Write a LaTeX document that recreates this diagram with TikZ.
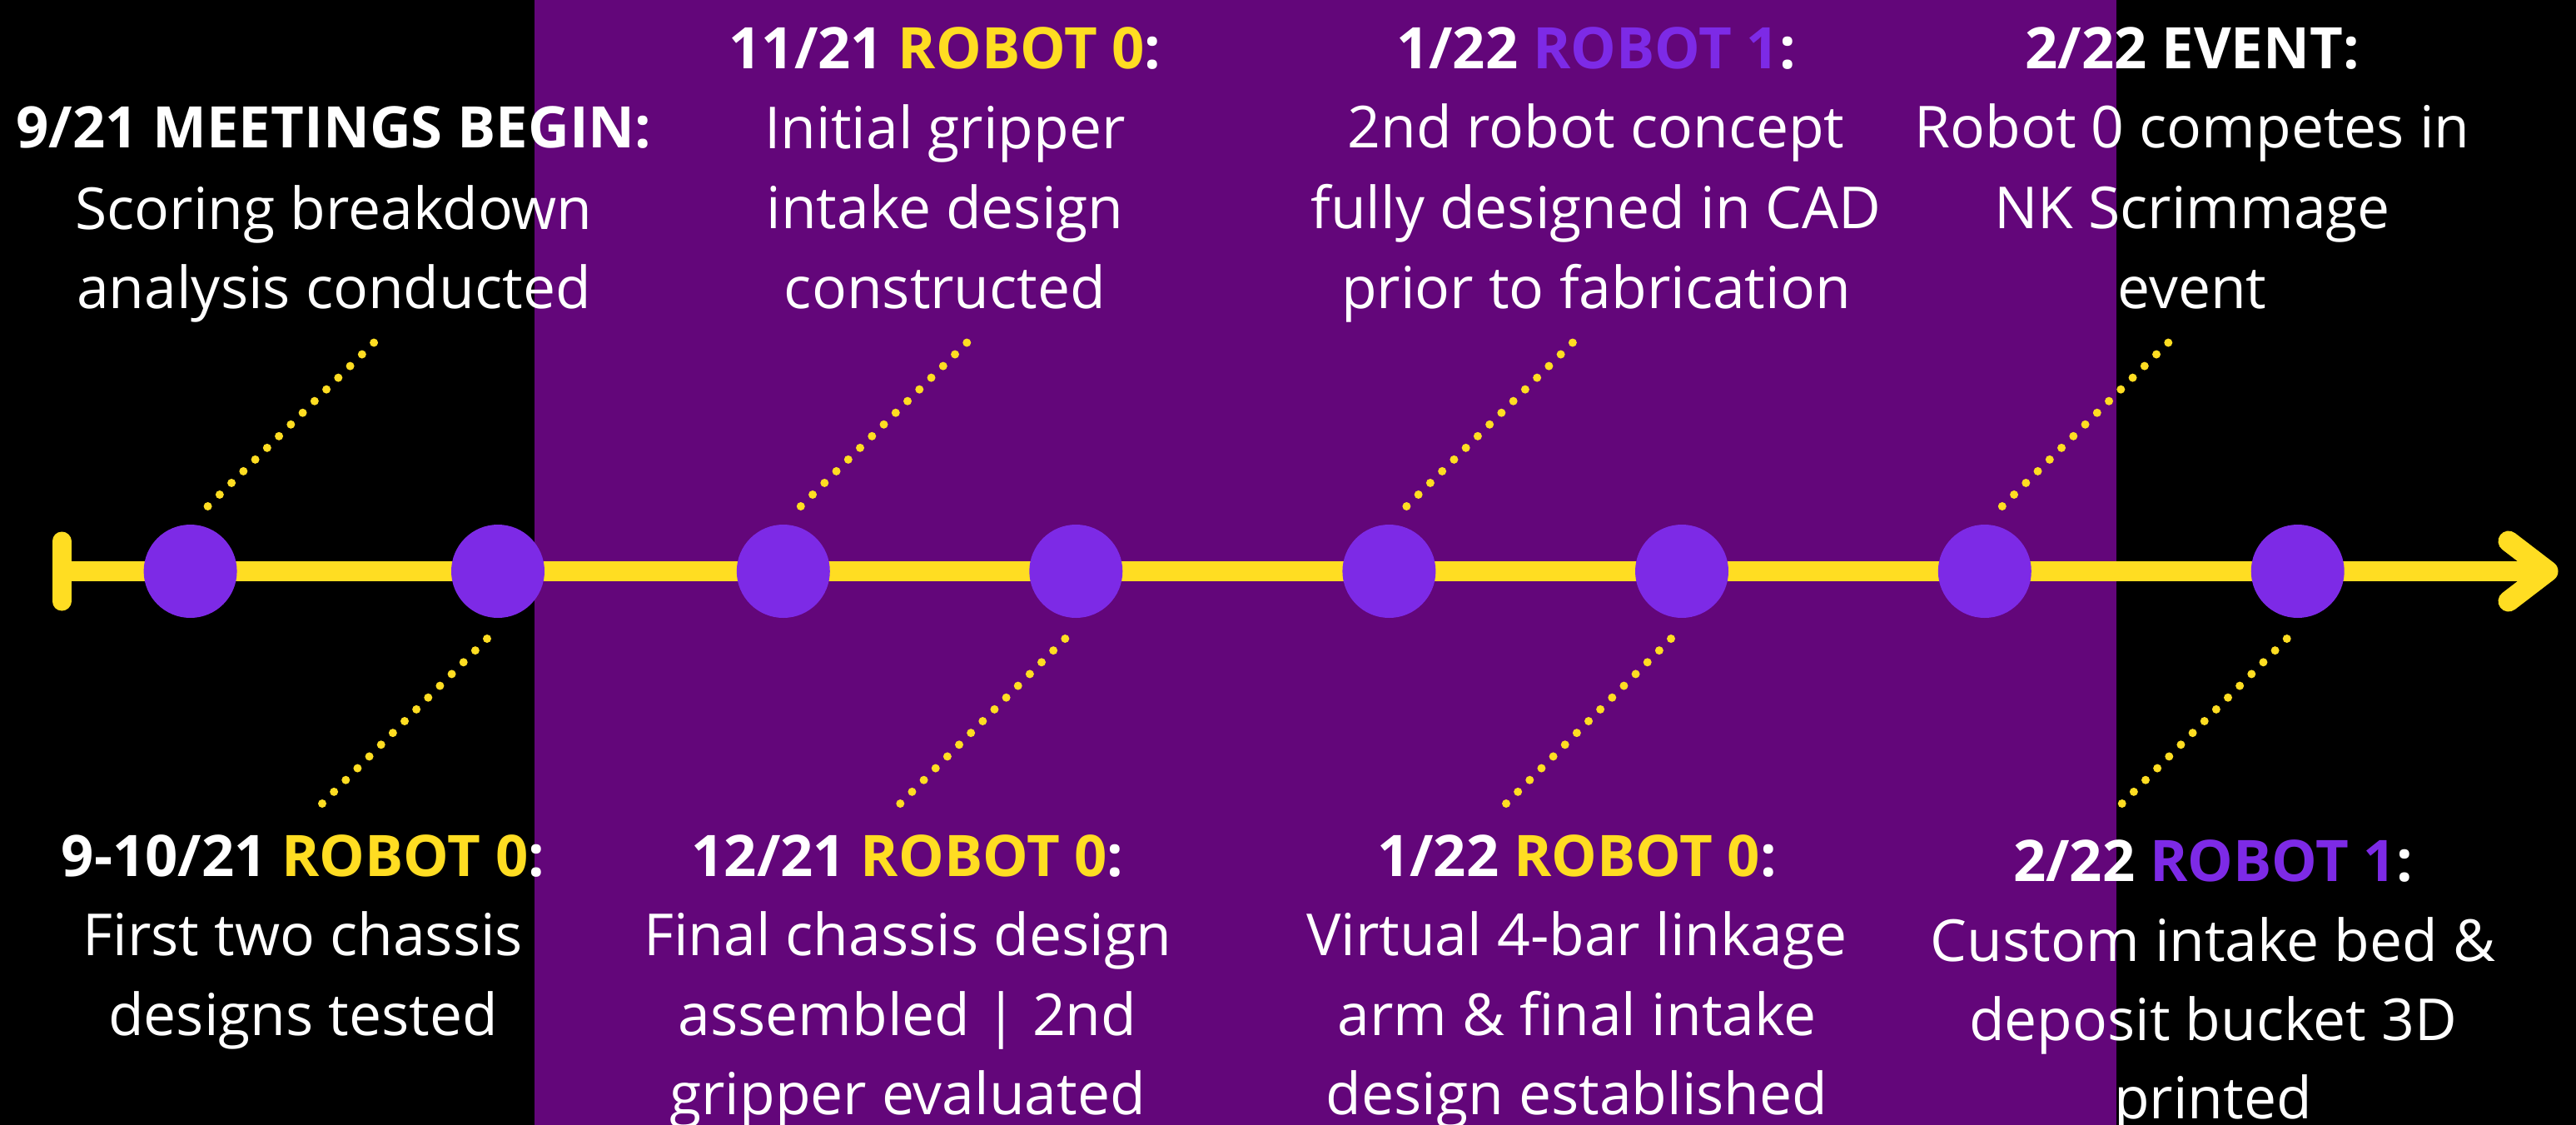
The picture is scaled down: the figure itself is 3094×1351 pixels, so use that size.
\documentclass[tikz,border=0pt]{standalone}
\usepackage{fontspec}
\setmainfont{Open Sans}
\definecolor{bgblack}{HTML}{000000}
\definecolor{bandpurple}{HTML}{63067A}
\definecolor{dotpurple}{HTML}{7D2AE6}
\definecolor{lineyellow}{HTML}{FFDD22}
\begin{document}
\begin{tikzpicture}[x=1pt,y=-1pt,
  axis/.style={draw=lineyellow, line width=24pt},
  milestone/.style={circle, fill=dotpurple, minimum size=112pt, inner sep=0pt},
  leader/.style={draw=lineyellow, line width=10pt, line cap=round, dash pattern=on 0pt off 20pt},
  ttl/.style={text=white, anchor=base, inner sep=0pt, font=\fontsize{68.8}{80}\selectfont\bfseries},
  bdy/.style={text=white, anchor=base, inner sep=0pt, font=\fontsize{69.6}{90}\selectfont}]
\fill[bgblack] (0,0) rectangle (3094,1351);
\useasboundingbox (0,0) rectangle (3094,1351);
\fill[bandpurple] (642,0) rectangle (2542,1351);
% timeline
\coordinate (start) at (74,686);
\coordinate (tip) at (3060,686);
\coordinate (bartop) at (74,650);
\coordinate (barbot) at (74,722);
\coordinate (armtop) at (3013,650);
\coordinate (armbot) at (3013,722);
\draw[axis] (start) -- (tip);
\draw[axis, line width=23pt, line cap=round] (bartop) -- (barbot);
\draw[axis, line width=25pt, line cap=round, line join=round] (armtop) -- (tip) -- (armbot);
% milestones
\node[milestone] (c1) at (228.6,686) {};
\node[milestone] (c2) at (598,686) {};
\node[milestone] (c3) at (940.8,686) {};
\node[milestone] (c4) at (1292.3,686) {};
\node[milestone] (c5) at (1668.4,686) {};
\node[milestone] (c6) at (2020,686) {};
\node[milestone] (c7) at (2383.8,686) {};
\node[milestone] (c8) at (2759.7,686) {};
% leaders (upper)
\foreach \i/\cx in {1/228.6,3/940.8,5/1668.4,7/2383.8}{
  \coordinate (ua\i) at (\cx+21,608);
  \coordinate (ub\i) at (\cx+222,410);
  \draw[leader] (ua\i) -- (ub\i);
}
% leaders (lower)
\foreach \i/\cx in {2/598,4/1292.3,6/2020,8/2759.7}{
  \coordinate (la\i) at (\cx-13,767);
  \coordinate (lb\i) at (\cx-213,967);
  \draw[leader] (la\i) -- (lb\i);
}
% block A
\node[ttl] (a0) at (401,178) {9/21 MEETINGS BEGIN:};
\node[bdy] (a1) at (401,275) {Scoring breakdown};
\node[bdy] (a2) at (401,370) {analysis conducted};
% block B
\node[ttl] (b0) at (1135,83) {11/21 \textcolor{lineyellow}{ROBOT 0}:};
\node[bdy] (b1) at (1135,179) {Initial gripper};
\node[bdy] (b2) at (1135,274) {intake design};
\node[bdy] (b3) at (1135,370) {constructed};
% block C
\node[ttl] (d0) at (1917,83) {1/22 \textcolor{dotpurple}{ROBOT 1}:};
\node[bdy] (d1) at (1917,178) {2nd robot concept};
\node[bdy] (d2) at (1917,274) {fully designed in CAD};
\node[bdy] (d3) at (1917,370) {prior to fabrication};
% block D
\node[ttl] (e0) at (2633,83) {2/22 EVENT:};
\node[bdy] (e1) at (2633,178) {Robot 0 competes in};
\node[bdy] (e2) at (2633,274) {NK Scrimmage};
\node[bdy] (e3) at (2633,370) {event};
% block E
\node[ttl] (f0) at (364,1052) {9-10/21 \textcolor{lineyellow}{ROBOT 0}:};
\node[bdy] (f1) at (364,1147) {First two chassis};
\node[bdy] (f2) at (364,1243) {designs tested};
% block F
\node[ttl] (g0) at (1090,1052) {12/21 \textcolor{lineyellow}{ROBOT 0}:};
\node[bdy] (g1) at (1090,1147) {Final chassis design};
\node[bdy] (g2) at (1090,1243) {assembled | 2nd};
\node[bdy] (g3) at (1090,1338) {gripper evaluated};
% block G
\node[ttl] (h0) at (1894,1052) {1/22 \textcolor{lineyellow}{ROBOT 0}:};
\node[bdy] (h1) at (1894,1147) {Virtual 4-bar linkage};
\node[bdy] (h2) at (1894,1243) {arm \& final intake};
\node[bdy] (h3) at (1894,1338) {design established};
% block H
\node[ttl] (k0) at (2658,1058) {2/22 \textcolor{dotpurple}{ROBOT 1}:};
\node[bdy] (k1) at (2658,1154) {Custom intake bed \&};
\node[bdy] (k2) at (2658,1249) {deposit bucket 3D};
\node[bdy] (k3) at (2658,1343) {printed};
\end{tikzpicture}
\end{document}
